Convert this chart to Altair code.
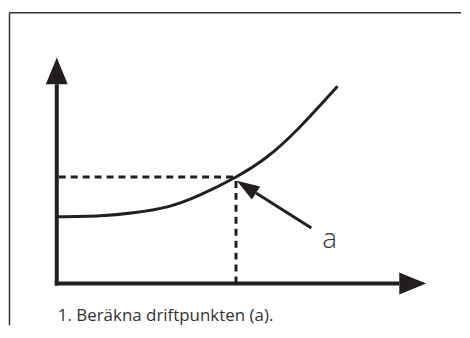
import math
import altair as alt
import pandas as pd

# Schematic coordinates (units = distance from the axes origin, y up)
X_DOMAIN = [-48, 406]
Y_DOMAIN = [-42, 276]

# system curve
curve_x = [1, 44, 77, 111, 144, 180, 211, 244, 282]
curve_y = [67, 68, 71, 77, 89, 107, 127, 157, 198]

# operating point (a)
op_x = 180
op_y = 107

# axes extents
axis_x_end = 344   # x-axis line end (arrow base)
axis_y_end = 200   # y-axis line end (arrow base)
arrow_len = 27
arrow_w = 22

# pointer arrow (tail -> tip)
ptr_tail = (255.7, 55.7)
ptr_tip = (180.7, 103.3)
ptr_head_len = 23
ptr_head_w = 15.5

label_a = "a"
label_a_pos = (274, 36)
caption = "1. Beräkna driftpunkten (a)."
caption_pos = (1, -38)

# frame
frame_top = 272
frame_left = -47.5

INK = "#231f20"

xs = alt.Scale(domain=X_DOMAIN, nice=False, zero=False)
ys = alt.Scale(domain=Y_DOMAIN, nice=False, zero=False)


def X(f="x"):
    return alt.X(f, type="quantitative", scale=xs, axis=None)


def Y(f="y"):
    return alt.Y(f, type="quantitative", scale=ys, axis=None)


# frame lines
frame_df = pd.DataFrame({
    "x": [frame_left, frame_left], "x2": [X_DOMAIN[1], frame_left],
    "y": [frame_top, frame_top], "y2": [frame_top, Y_DOMAIN[0]],
})
frame = alt.Chart(frame_df).mark_rule(color="#333333", strokeWidth=1.5).encode(
    x=X("x"), x2="x2", y=Y("y"), y2="y2")

# axis lines
axes_df = pd.DataFrame({
    "x": [-2, 0], "x2": [axis_x_end, 0],
    "y": [0, -2], "y2": [0, axis_y_end],
})
axes = alt.Chart(axes_df).mark_rule(color=INK, strokeWidth=4).encode(
    x=X("x"), x2="x2", y=Y("y"), y2="y2")

# axis arrowheads (shape pointing right, rotated)
half = arrow_w / arrow_len
head_path = f"M1,0L-1,{-half:.3f}L-1,{half:.3f}Z"
heads_df = pd.DataFrame({
    "x": [axis_x_end + arrow_len / 2, 0],
    "y": [0, axis_y_end + arrow_len / 2],
    "angle": [0, 270],
})
heads = alt.Chart(heads_df).mark_point(
    shape=head_path, filled=True, size=arrow_len ** 2, color=INK, opacity=1, strokeWidth=0
).encode(x=X("x"), y=Y("y"), angle=alt.Angle("angle:Q", scale=None))

# dashed guide lines
dash_df = pd.DataFrame({
    "x": [2, op_x], "x2": [op_x, op_x],
    "y": [op_y, 0], "y2": [op_y, op_y],
})
dashes = alt.Chart(dash_df).mark_rule(color=INK, strokeWidth=3, strokeDash=[7, 5]).encode(
    x=X("x"), x2="x2", y=Y("y"), y2="y2")

# curve
curve_df = pd.DataFrame({"x": curve_x, "y": curve_y})
curve = alt.Chart(curve_df).mark_line(
    color=INK, strokeWidth=3, interpolate="natural"
).encode(x=X("x"), y=Y("y"))

# pointer arrow
dx = ptr_tip[0] - ptr_tail[0]
dy = ptr_tip[1] - ptr_tail[1]
L = math.hypot(dx, dy)
ux, uy = dx / L, dy / L
base = (ptr_tip[0] - ux * ptr_head_len, ptr_tip[1] - uy * ptr_head_len)
center = (ptr_tip[0] - ux * ptr_head_len / 2, ptr_tip[1] - uy * ptr_head_len / 2)
ang = math.degrees(math.atan2(-dy, dx)) % 360

shaft_df = pd.DataFrame({"x": [ptr_tail[0]], "y": [ptr_tail[1]], "x2": [base[0]], "y2": [base[1]]})
shaft = alt.Chart(shaft_df).mark_rule(color=INK, strokeWidth=3).encode(
    x=X("x"), x2="x2", y=Y("y"), y2="y2")

ph = ptr_head_w / ptr_head_len
ptr_path = f"M1,0L-1,{-ph:.3f}L-1,{ph:.3f}Z"
ptr_df = pd.DataFrame({"x": [center[0]], "y": [center[1]], "angle": [ang]})
ptr_head = alt.Chart(ptr_df).mark_point(
    shape=ptr_path, filled=True, size=ptr_head_len ** 2, color=INK, opacity=1, strokeWidth=0
).encode(x=X("x"), y=Y("y"), angle=alt.Angle("angle:Q", scale=None))

# texts
a_df = pd.DataFrame({"x": [label_a_pos[0]], "y": [label_a_pos[1]], "t": [label_a]})
a_text = alt.Chart(a_df).mark_text(
    font="Open Sans", fontSize=28, fontWeight=300, color="#333333",
    align="center", baseline="alphabetic"
).encode(x=X("x"), y=Y("y"), text="t:N")

cap_df = pd.DataFrame({"x": [caption_pos[0]], "y": [caption_pos[1]], "t": [caption]})
cap_text = alt.Chart(cap_df).mark_text(
    font="Open Sans", fontSize=17, color="#333333",
    align="left", baseline="alphabetic"
).encode(x=X("x"), y=Y("y"), text="t:N")

chart = alt.layer(
    frame, dashes, curve, axes, heads, shaft, ptr_head, a_text, cap_text
).properties(
    width=454, height=318, padding=0, background="white",
).configure_view(stroke=None)

chart.save("out.html", embed_options={"renderer": "svg", "actions": False})
